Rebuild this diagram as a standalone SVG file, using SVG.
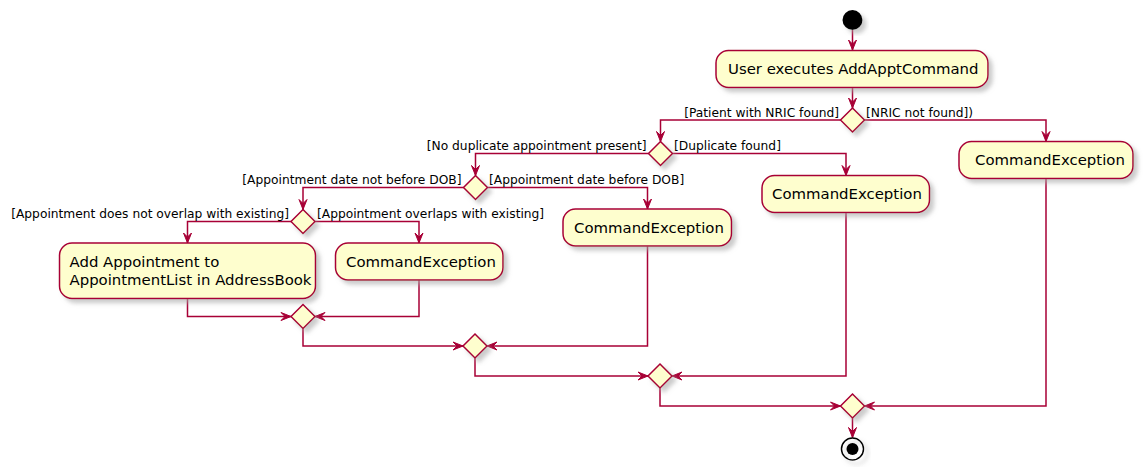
<svg xmlns="http://www.w3.org/2000/svg" width="1148" height="476" viewBox="0 0 1148 476">
<style>
.act{fill:#FEFECE;stroke:#A80036;stroke-width:1.5;filter:url(#sh)}
.dia{fill:#FEFECE;stroke:#A80036;stroke-width:1.5;filter:url(#sh)}
.at{font-family:"DejaVu Sans",sans-serif;font-size:14.9px;fill:#000}
.gt{font-family:"DejaVu Sans",sans-serif;font-size:12.25px;fill:#000}
.end{text-anchor:end}
.ln{fill:none;stroke:#A80036;stroke-width:1.5;marker-end:url(#ah)}
</style>
<defs>
<filter id="sh" x="-20%" y="-20%" width="150%" height="150%">
<feGaussianBlur in="SourceAlpha" stdDeviation="2"/>
<feOffset dx="4" dy="4" result="b"/>
<feColorMatrix in="b" type="matrix" values="0 0 0 0 0.4 0 0 0 0 0.4 0 0 0 0 0.4 0 0 0 0.6 0" result="c"/>
<feMerge><feMergeNode in="c"/><feMergeNode in="SourceGraphic"/></feMerge>
</filter>
<marker id="ah" markerUnits="userSpaceOnUse" markerWidth="14" markerHeight="12" viewBox="-11 -6 12 12" refX="0" refY="0" orient="auto" overflow="visible">
<path d="M-10,-4 L0,0 L-10,4 L-6,0 Z" fill="#A80036" stroke="#A80036" stroke-width="1"/>
</marker>
</defs>
<g id="connectors">
<path class="ln" d="M852.5,30 V50"/>
<path class="ln" d="M852.5,87.5 V108"/>
<path class="ln" d="M840.5,120 H660.5 V141.5"/>
<path class="ln" d="M864.5,120 H1046 V141.5"/>
<path class="ln" d="M648.5,153.5 H475.5 V175.5"/>
<path class="ln" d="M672.5,153.5 H846 V175.5"/>
<path class="ln" d="M463.5,187.5 H303 V209.5"/>
<path class="ln" d="M487.5,187.5 H647.5 V209"/>
<path class="ln" d="M291,221.5 H187.5 V243"/>
<path class="ln" d="M315,221.5 H419 V243"/>
<path class="ln" d="M187.5,298.5 V316.5 H291"/>
<path class="ln" d="M419,280 V316.5 H315"/>
<path class="ln" d="M303,328.5 V346 H463"/>
<path class="ln" d="M647.5,246 V346 H487"/>
<path class="ln" d="M475,358 V376 H648"/>
<path class="ln" d="M846,212.5 V376 H672"/>
<path class="ln" d="M660,388 V406 H840.5"/>
<path class="ln" d="M1046,178.5 V406 H864.5"/>
<path class="ln" d="M852.5,418 V437.5"/>
</g>
<g id="start"><circle cx="852.5" cy="20" r="10" fill="#000" filter="url(#sh)"/></g>
<g id="userExecutes">
<rect class="act" x="716" y="50.5" width="272" height="37" rx="12.5"/>
<text class="at" x="728" y="74">User executes AddApptCommand</text>
</g>
<g id="d1">
<polygon class="dia" points="852.5,108 864.5,120 852.5,132 840.5,120"/>
<text class="gt end" x="839" y="116.5">[Patient with NRIC found]</text>
<text class="gt" x="866" y="116.5">[NRIC not found])</text>
</g>
<g id="exNric">
<rect class="act" x="959" y="141.5" width="174" height="37" rx="12.5"/>
<text class="at" x="975" y="165">CommandException</text>
</g>
<g id="d2">
<polygon class="dia" points="660.5,141.5 672.5,153.5 660.5,165.5 648.5,153.5"/>
<text class="gt end" x="646.5" y="150">[No duplicate appointment present]</text>
<text class="gt" x="674" y="150">[Duplicate found]</text>
</g>
<g id="exDup">
<rect class="act" x="762" y="175.5" width="167.5" height="37" rx="12.5"/>
<text class="at" x="772" y="199">CommandException</text>
</g>
<g id="d3">
<polygon class="dia" points="475.5,175.5 487.5,187.5 475.5,199.5 463.5,187.5"/>
<text class="gt end" x="461.5" y="184">[Appointment date not before DOB]</text>
<text class="gt" x="489" y="184">[Appointment date before DOB]</text>
</g>
<g id="exDob">
<rect class="act" x="563" y="209" width="168.5" height="37" rx="12.5"/>
<text class="at" x="574" y="233">CommandException</text>
</g>
<g id="d4">
<polygon class="dia" points="303,209.5 315,221.5 303,233.5 291,221.5"/>
<text class="gt end" x="289" y="218">[Appointment does not overlap with existing]</text>
<text class="gt" x="317" y="218">[Appointment overlaps with existing]</text>
</g>
<g id="addAppt">
<rect class="act" x="59.5" y="243" width="256" height="55.5" rx="12.5"/>
<text class="at" x="69.5" y="266.5">Add Appointment to</text>
<text class="at" x="69.5" y="285">AppointmentList in AddressBook</text>
</g>
<g id="exOverlap">
<rect class="act" x="335.5" y="243" width="167.5" height="37" rx="12.5"/>
<text class="at" x="346" y="266.5">CommandException</text>
</g>
<g id="d5"><polygon class="dia" points="303,304.5 315,316.5 303,328.5 291,316.5"/></g>
<g id="d6"><polygon class="dia" points="475,334 487,346 475,358 463,346"/></g>
<g id="d7"><polygon class="dia" points="660,364 672,376 660,388 648,376"/></g>
<g id="d8"><polygon class="dia" points="852.5,394 864.5,406 852.5,418 840.5,406"/></g>
<g id="end">
<circle cx="852.5" cy="449" r="11" fill="none" stroke="#000" stroke-width="1.5" filter="url(#sh)"/>
<circle cx="852.5" cy="449" r="6" fill="#000"/>
</g>
</svg>
